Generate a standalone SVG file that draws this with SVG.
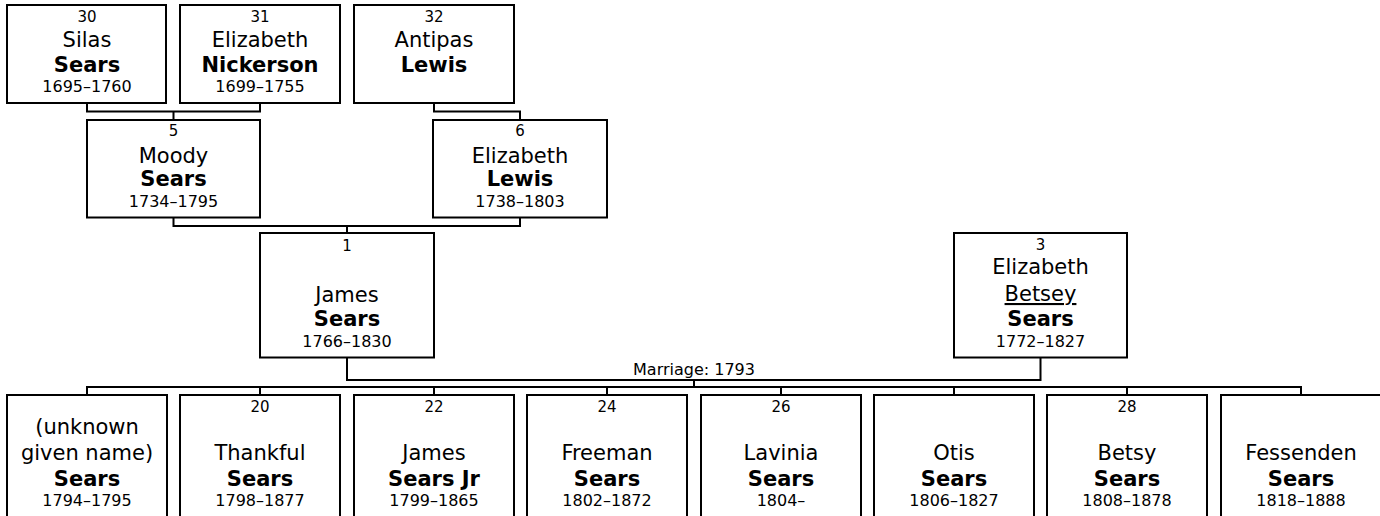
<svg xmlns="http://www.w3.org/2000/svg" width="1380" height="516" viewBox="0 0 1380 516">
<style>
rect.box{fill:#fff;stroke:#000;stroke-width:2}
.c path{fill:none;stroke:#000;stroke-width:2}
text{font-family:"DejaVu Sans","Verdana",sans-serif;fill:#000;text-anchor:middle}
.n{font-size:15px}
.g{font-size:21px}
.s{font-size:21px;font-weight:bold}
.d{font-size:16px}
.m{font-size:16px}
.u{text-decoration:underline}
</style>
<rect width="1380" height="516" fill="#fff"/>
<g class="c" id="connectors">
<path d="M87,103 V111.5 H260 V103 M173.5,111.5 V120"/>
<path d="M434,103 V111.5 H520 V120"/>
<path d="M173.5,217.5 V226 H520 V217.5 M347,226 V233"/>
<path d="M347,357.5 V380 H1040.5 V357.5 M694,380 V387"/>
<path d="M87,395 V387 H1301 V395 M260,387 V395 M434,387 V395 M607,387 V395 M781,387 V395 M954,387 V395 M1127,387 V395"/>
<text class="m" x="694" y="375">Marriage: 1793</text>
</g>
<g id="p30"><rect class="box" x="7" y="5" width="159" height="98"/>
<text class="n" x="87" y="22">30</text><text class="g" x="87" y="47">Silas</text><text class="s" x="87" y="72">Sears</text><text class="d" x="87" y="92">1695–1760</text></g>
<g id="p31"><rect class="box" x="180" y="5" width="160" height="98"/>
<text class="n" x="260" y="22">31</text><text class="g" x="260" y="47">Elizabeth</text><text class="s" x="260" y="72">Nickerson</text><text class="d" x="260" y="92">1699–1755</text></g>
<g id="p32"><rect class="box" x="354" y="5" width="160" height="98"/>
<text class="n" x="434" y="22">32</text><text class="g" x="434" y="47">Antipas</text><text class="s" x="434" y="72">Lewis</text></g>
<g id="p5"><rect class="box" x="87" y="120" width="173" height="97.5"/>
<text class="n" x="173.5" y="135.5">5</text><text class="g" x="173.5" y="163">Moody</text><text class="s" x="173.5" y="186">Sears</text><text class="d" x="173.5" y="207">1734–1795</text></g>
<g id="p6"><rect class="box" x="433" y="120" width="174" height="97.5"/>
<text class="n" x="520" y="135.5">6</text><text class="g" x="520" y="163">Elizabeth</text><text class="s" x="520" y="186">Lewis</text><text class="d" x="520" y="207">1738–1803</text></g>
<g id="p1"><rect class="box" x="260" y="233" width="174" height="124.5"/>
<text class="n" x="347" y="251">1</text><text class="g" x="347" y="302">James</text><text class="s" x="347" y="326">Sears</text><text class="d" x="347" y="347">1766–1830</text></g>
<g id="p3"><rect class="box" x="954" y="233" width="173" height="124.5"/>
<text class="n" x="1040.5" y="250">3</text><text class="g" x="1040.5" y="274">Elizabeth</text><text class="g u" x="1040.5" y="301">Betsey</text><text class="s" x="1040.5" y="326">Sears</text><text class="d" x="1040.5" y="347">1772–1827</text></g>
<g id="c0"><rect class="box" x="7" y="395" width="160" height="150"/>
<text class="g" x="87" y="434">(unknown</text><text class="g" x="87" y="460">given name)</text><text class="s" x="87" y="486">Sears</text><text class="d" x="87" y="506">1794–1795</text></g>
<g id="c20"><rect class="box" x="180" y="395" width="160" height="150"/>
<text class="n" x="260" y="412">20</text><text class="g" x="260" y="460">Thankful</text><text class="s" x="260" y="486">Sears</text><text class="d" x="260" y="506">1798–1877</text></g>
<g id="c22"><rect class="box" x="354" y="395" width="160" height="150"/>
<text class="n" x="434" y="412">22</text><text class="g" x="434" y="460">James</text><text class="s" x="434" y="486">Sears Jr</text><text class="d" x="434" y="506">1799–1865</text></g>
<g id="c24"><rect class="box" x="527" y="395" width="160" height="150"/>
<text class="n" x="607" y="412">24</text><text class="g" x="607" y="460">Freeman</text><text class="s" x="607" y="486">Sears</text><text class="d" x="607" y="506">1802–1872</text></g>
<g id="c26"><rect class="box" x="701" y="395" width="160" height="150"/>
<text class="n" x="781" y="412">26</text><text class="g" x="781" y="460">Lavinia</text><text class="s" x="781" y="486">Sears</text><text class="d" x="781" y="506">1804–</text></g>
<g id="c27"><rect class="box" x="874" y="395" width="160" height="150"/>
<text class="g" x="954" y="460">Otis</text><text class="s" x="954" y="486">Sears</text><text class="d" x="954" y="506">1806–1827</text></g>
<g id="c28"><rect class="box" x="1047" y="395" width="160" height="150"/>
<text class="n" x="1127" y="412">28</text><text class="g" x="1127" y="460">Betsy</text><text class="s" x="1127" y="486">Sears</text><text class="d" x="1127" y="506">1808–1878</text></g>
<g id="c29"><rect class="box" x="1221" y="395" width="160" height="150"/>
<text class="g" x="1301" y="460">Fessenden</text><text class="s" x="1301" y="486">Sears</text><text class="d" x="1301" y="506">1818–1888</text></g>
</svg>
